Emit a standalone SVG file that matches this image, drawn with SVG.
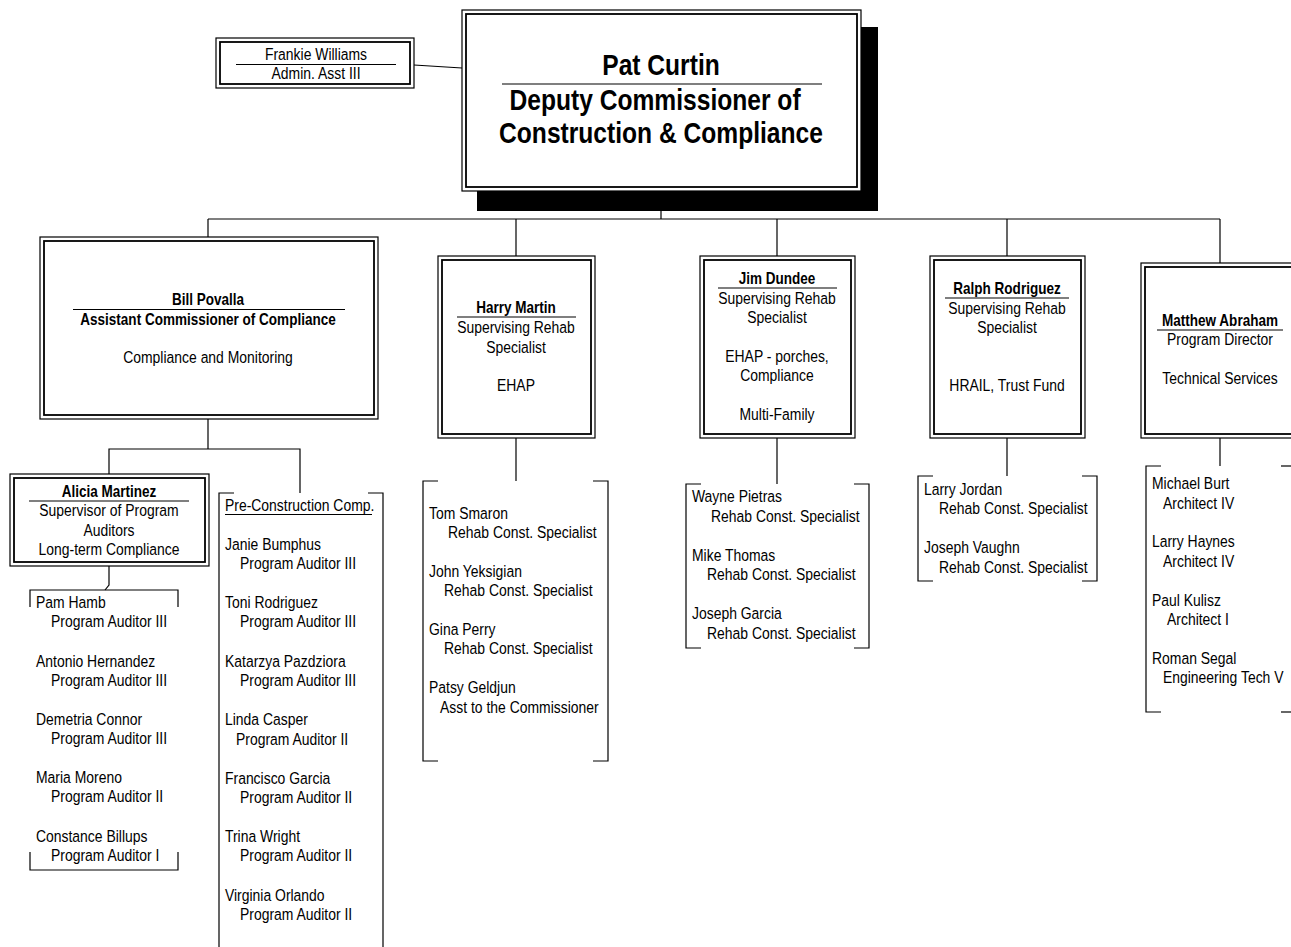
<svg xmlns="http://www.w3.org/2000/svg" width="1291" height="947" viewBox="0 0 1291 947">
  <style>
    .t { font-family: 'Liberation Sans', Arial, sans-serif; font-size: 17px; fill: #000;
         transform-box: fill-box; transform-origin: left center; transform: scaleX(0.82); }
    .b { font-weight: bold; font-size: 16.5px; }
    .c { text-anchor: middle; transform-origin: center center; }
    .big { font-size: 30px; font-weight: bold; }
    .ln { stroke: #000; stroke-width: 1.2; fill: none; }
    .rule { stroke: #000; stroke-width: 1.2; }
    .bo { fill: #fff; stroke: #000; stroke-width: 1.2; }
    .bi { fill: none; stroke: #000; stroke-width: 1.8; }
  </style>
  <rect width="1291" height="947" fill="#fff"/>

  <!-- connectors -->
  <g id="connectors" class="ln">
    <line x1="414" y1="65" x2="462" y2="68"/>
    <line x1="661" y1="191" x2="661" y2="219"/>
    <line x1="208" y1="219" x2="1220" y2="219"/>
    <line x1="208" y1="219" x2="208" y2="237"/>
    <line x1="516" y1="219" x2="516" y2="256"/>
    <line x1="777" y1="219" x2="777" y2="256"/>
    <line x1="1007" y1="219" x2="1007" y2="256"/>
    <line x1="1220" y1="219" x2="1220" y2="263"/>
    <!-- under Bill Povalla -->
    <polyline points="208,419 208,449"/>
    <polyline points="109,474 109,449 300,449 300,493"/>
    <!-- under Alicia Martinez -->
    <polyline points="109,566 109,585 105,590"/>
    <!-- drops to staff lists -->
    <line x1="516" y1="438" x2="516" y2="481"/>
    <line x1="777" y1="438" x2="777" y2="484"/>
    <line x1="1007" y1="438" x2="1007" y2="476"/>
    <line x1="1220" y1="438" x2="1220" y2="466"/>
  </g>

  <!-- Deputy Commissioner -->
  <g id="pat-curtin">
    <rect x="477" y="27" width="401" height="184" fill="#000"/>
    <rect class="bo" x="462" y="10" width="399" height="181"/>
    <rect class="bi" x="466" y="14" width="391" height="173"/>
    <text class="t big c" x="661" y="75">Pat Curtin</text>
    <line class="rule" x1="502" y1="84" x2="822" y2="84"/>
    <text class="t big c" x="655" y="110">Deputy Commissioner of</text>
    <text class="t big c" x="661" y="143">Construction &amp; Compliance</text>
  </g>

  <g id="frankie-williams">
    <rect class="bo" x="216" y="38" width="198" height="50"/>
    <rect class="bi" x="220" y="42" width="190" height="42"/>
    <text class="t c" x="316" y="60">Frankie Williams</text>
    <line class="rule" x1="236" y1="64.5" x2="396" y2="64.5"/>
    <text class="t c" x="316" y="79">Admin. Asst III</text>
  </g>

  <g id="bill-povalla">
    <rect class="bo" x="40" y="237" width="338" height="182"/>
    <rect class="bi" x="44" y="241" width="330" height="174"/>
    <text class="t b c" x="208" y="305">Bill Povalla</text>
    <line class="rule" x1="73" y1="309.5" x2="345" y2="309.5"/>
    <text class="t b c" x="208" y="325">Assistant Commissioner of Compliance</text>
    <text class="t c" x="208" y="363">Compliance and Monitoring</text>
  </g>

  <g id="harry-martin">
    <rect class="bo" x="438" y="256" width="157" height="182"/>
    <rect class="bi" x="442" y="260" width="149" height="174"/>
    <text class="t b c" x="516" y="313">Harry Martin</text>
    <line class="rule" x1="457" y1="317" x2="576" y2="317"/>
    <text class="t c" x="516" y="333">Supervising Rehab</text>
    <text class="t c" x="516" y="353">Specialist</text>
    <text class="t c" x="516" y="391">EHAP</text>
  </g>

  <g id="jim-dundee">
    <rect class="bo" x="700" y="256" width="155" height="182"/>
    <rect class="bi" x="704" y="260" width="147" height="174"/>
    <text class="t b c" x="777" y="284">Jim Dundee</text>
    <line class="rule" x1="718" y1="288" x2="837" y2="288"/>
    <text class="t c" x="777" y="304">Supervising Rehab</text>
    <text class="t c" x="777" y="323">Specialist</text>
    <text class="t c" x="777" y="362">EHAP - porches,</text>
    <text class="t c" x="777" y="381">Compliance</text>
    <text class="t c" x="777" y="420">Multi-Family</text>
  </g>

  <g id="ralph-rodriguez">
    <rect class="bo" x="930" y="256" width="155" height="182"/>
    <rect class="bi" x="934" y="260" width="147" height="174"/>
    <text class="t b c" x="1007" y="294">Ralph Rodriguez</text>
    <line class="rule" x1="945" y1="298" x2="1069" y2="298"/>
    <text class="t c" x="1007" y="314">Supervising Rehab</text>
    <text class="t c" x="1007" y="333">Specialist</text>
    <text class="t c" x="1007" y="391">HRAIL, Trust Fund</text>
  </g>

  <g id="matthew-abraham">
    <rect class="bo" x="1141" y="263" width="160" height="175"/>
    <rect class="bi" x="1145" y="267" width="152" height="167"/>
    <text class="t b c" x="1220" y="326">Matthew Abraham</text>
    <line class="rule" x1="1157" y1="330" x2="1283" y2="330"/>
    <text class="t c" x="1220" y="345">Program Director</text>
    <text class="t c" x="1220" y="384">Technical Services</text>
  </g>

  <g id="alicia-martinez">
    <rect class="bo" x="10" y="474" width="199" height="92"/>
    <rect class="bi" x="14" y="478" width="191" height="84"/>
    <text class="t b c" x="109" y="497">Alicia Martinez</text>
    <line class="rule" x1="29" y1="501" x2="189" y2="501"/>
    <text class="t c" x="109" y="516">Supervisor of Program</text>
    <text class="t c" x="109" y="536">Auditors</text>
    <text class="t c" x="109" y="555">Long-term Compliance</text>
  </g>

  <!-- staff lists -->
  <g id="long-term-staff">
    <polyline class="ln" points="30,607 30,590 178,590 178,607"/>
    <polyline class="ln" points="30,852 30,870 178,870 178,852"/>
    <text class="t" x="36" y="608">Pam Hamb</text>
    <text class="t" x="51" y="627">Program Auditor III</text>
    <text class="t" x="36" y="667">Antonio Hernandez</text>
    <text class="t" x="51" y="686">Program Auditor III</text>
    <text class="t" x="36" y="725">Demetria Connor</text>
    <text class="t" x="51" y="744">Program Auditor III</text>
    <text class="t" x="36" y="783">Maria Moreno</text>
    <text class="t" x="51" y="802">Program Auditor II</text>
    <text class="t" x="36" y="842">Constance Billups</text>
    <text class="t" x="51" y="861">Program Auditor I</text>
  </g>

  <g id="pre-construction-staff">
    <polyline class="ln" points="234,493 219,493 219,947"/>
    <polyline class="ln" points="368,493 383,493 383,947"/>
    <text class="t" x="225" y="511">Pre-Construction Comp.</text>
    <line class="rule" x1="225" y1="514.5" x2="372" y2="514.5"/>
    <text class="t" x="225" y="550">Janie Bumphus</text>
    <text class="t" x="240" y="569">Program Auditor III</text>
    <text class="t" x="225" y="608">Toni Rodriguez</text>
    <text class="t" x="240" y="627">Program Auditor III</text>
    <text class="t" x="225" y="667">Katarzya Pazdziora</text>
    <text class="t" x="240" y="686">Program Auditor III</text>
    <text class="t" x="225" y="725">Linda Casper</text>
    <text class="t" x="236" y="745">Program Auditor II</text>
    <text class="t" x="225" y="784">Francisco Garcia</text>
    <text class="t" x="240" y="803">Program Auditor II</text>
    <text class="t" x="225" y="842">Trina Wright</text>
    <text class="t" x="240" y="861">Program Auditor II</text>
    <text class="t" x="225" y="901">Virginia Orlando</text>
    <text class="t" x="240" y="920">Program Auditor II</text>
  </g>

  <g id="ehap-staff">
    <polyline class="ln" points="438,481 423,481 423,761 438,761"/>
    <polyline class="ln" points="593,481 608,481 608,761 593,761"/>
    <text class="t" x="429" y="519">Tom Smaron</text>
    <text class="t" x="448" y="538">Rehab Const. Specialist</text>
    <text class="t" x="429" y="577">John Yeksigian</text>
    <text class="t" x="444" y="596">Rehab Const. Specialist</text>
    <text class="t" x="429" y="635">Gina Perry</text>
    <text class="t" x="444" y="654">Rehab Const. Specialist</text>
    <text class="t" x="429" y="693">Patsy Geldjun</text>
    <text class="t" x="440" y="713">Asst to the Commissioner</text>
  </g>

  <g id="multifamily-staff">
    <polyline class="ln" points="701,484 686,484 686,648 701,648"/>
    <polyline class="ln" points="854,484 869,484 869,648 854,648"/>
    <text class="t" x="692" y="502">Wayne Pietras</text>
    <text class="t" x="711" y="522">Rehab Const. Specialist</text>
    <text class="t" x="692" y="561">Mike Thomas</text>
    <text class="t" x="707" y="580">Rehab Const. Specialist</text>
    <text class="t" x="692" y="619">Joseph Garcia</text>
    <text class="t" x="707" y="639">Rehab Const. Specialist</text>
  </g>

  <g id="hrail-staff">
    <polyline class="ln" points="933,476 918,476 918,581 933,581"/>
    <polyline class="ln" points="1082,476 1097,476 1097,581 1082,581"/>
    <text class="t" x="924" y="495">Larry Jordan</text>
    <text class="t" x="939" y="514">Rehab Const. Specialist</text>
    <text class="t" x="924" y="553">Joseph Vaughn</text>
    <text class="t" x="939" y="573">Rehab Const. Specialist</text>
  </g>

  <g id="technical-staff">
    <polyline class="ln" points="1161,466 1146,466 1146,712 1161,712"/>
    <polyline class="ln" points="1281,466 1292,466"/>
    <polyline class="ln" points="1281,712 1292,712"/>
    <text class="t" x="1152" y="489">Michael Burt</text>
    <text class="t" x="1163" y="509">Architect IV</text>
    <text class="t" x="1152" y="547">Larry Haynes</text>
    <text class="t" x="1163" y="567">Architect IV</text>
    <text class="t" x="1152" y="606">Paul Kulisz</text>
    <text class="t" x="1167" y="625">Architect I</text>
    <text class="t" x="1152" y="664">Roman Segal</text>
    <text class="t" x="1163" y="683">Engineering Tech V</text>
  </g>
</svg>
